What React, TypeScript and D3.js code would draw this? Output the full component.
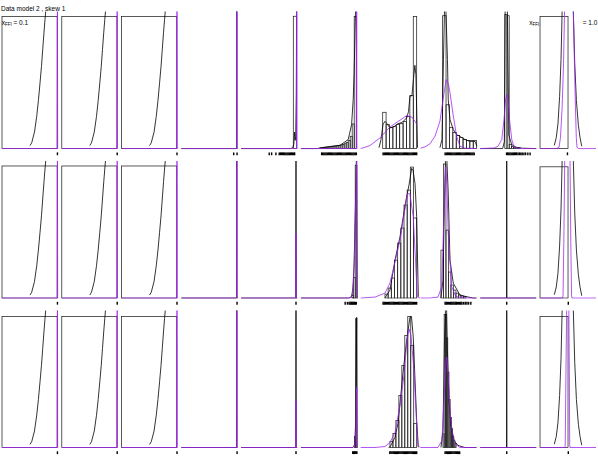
import * as d3 from "d3";

type Pt = [number, number];
type Bins = { x0: number; w: number; h: number[] };
type Panel = { bins?: Bins; black?: Pt[]; purple?: Pt[]; rug: number[] };

// all values in panel units: x 0..100 across a panel, y 0..100 of panel height
const title = "Data model 2 , skew 1";
const xffiLeft = "= 0.1";
const xffiRight = "= 1.0";

// shapes shared by several panels
const tailBlack: Pt[] = [[50, 2.2], [53, 4.2], [58, 12], [62, 23.6], [65, 35], [67.9, 48], [70.5, 60], [72.7, 72.3], [75, 85], [76.8, 94.2], [78, 100], [78.6, 110]];
const edgeSpike: Pt[] = [[0, 0], [98.6, 0], [99, 110], [99.4, 0], [100, 0]];
const midSpike: Pt[] = [[0, 0], [47, 0], [47.3, 110], [47.6, 0], [100, 0]];
const flatLine: Pt[] = [[0, 0], [100, 0]];
const twinBlack: Pt[] = [[25.5, 2.4], [29, 8], [32, 18], [35, 38], [37.5, 65], [39.5, 100], [41, 140], [58, 140], [59.5, 100], [62, 62], [65, 35], [68.5, 17], [71.5, 8], [74.5, 1.7]];
const wideBin1: Bins = { x0: 0, w: 98.5, h: [96.4] };
const wideBin3: Bins = { x0: 0, w: 98.5, h: [95.6] };

// row 1
const r1c3Rug = [93.5, 99.5];
const r1c4Bins: Bins = { x0: 93.2, w: 6.1, h: [96.6] };
const r1c4Black: Pt[] = [[0, 0], [88, 0], [92, 0.5], [94, 3], [95.5, 12], [96.5, 6], [97.5, 9], [98.5, 40], [99.2, 110]];
const r1c4Purple: Pt[] = [[0, 0], [98.9, 0], [99.3, 110], [99.7, 0], [100, 0]];
const r1c4Rug = [50.2, 54.5, 62.1, 68, 70, 72, 74, 76, 78, 80, 82, 84, 86, 88, 90, 92, 94, 95.6];
const r1c5Bins: Bins = { x0: 34, w: 3.6, h: [0.5, 0.6, 0.8, 1, 1.1, 1.3, 1.5, 1.8, 2, 2.3, 2.6, 3, 3.6, 4.5, 6, 9, 18, 96.5] };
const r1c5Black: Pt[] = [[0, 0], [30, 0], [34.1, 0.5], [50, 1.5], [69.8, 2.4], [84.5, 6.6], [90.5, 17.5], [93.4, 35.8], [95, 55], [96.6, 84.7], [97.5, 100], [98, 110]];
const r1c5Purple: Pt[] = [[0, 0], [99.2, 0], [99.6, 110], [100, 0]];
const r1c5Rug = [37, 39, 41, 43, 45, 47, 49, 51, 53, 55, 57, 59, 61, 63, 65, 67, 69, 71, 73, 75, 77, 79, 81, 83, 85, 87, 89, 91, 93, 95, 97, 99];
const r1c6Bins: Bins = { x0: 39.3, w: 6.07, h: [26.5, 17.5, 15.3, 16, 17.5, 18.2, 19.7, 23.4, 38.7, 96.4] };
const r1c6Black: Pt[] = [[32.7, 0.7], [36.3, 6.6], [39.8, 17.5], [43.4, 19.9], [47, 18.2], [52.3, 15.1], [59.5, 16], [66.6, 18.2], [73.8, 19], [82.1, 22.4], [85.4, 27], [88, 38.2], [91.6, 38.7], [94.1, 50.4], [96.8, 60.8], [98.6, 54], [100.4, 21], [101.5, 0.7]];
const r1c6Purple: Pt[] = [[0, 0], [16.6, 2.2], [34.5, 7.8], [52.3, 15.8], [70.2, 20.7], [82.1, 24.1], [91.1, 23.1], [97, 19.9], [100.5, 17.5]];
const r1c6Rug = [40, 42, 44, 46, 48, 50, 52, 54, 56, 58, 60, 62, 64, 66, 68, 70, 72, 74, 76, 78, 80, 82, 84, 86, 88, 90, 92, 94, 96, 98, 100];
const r1c7Bins: Bins = { x0: 39.6, w: 6.07, h: [97, 32, 15.3, 11.7, 9.5, 8, 6.6, 5.8, 5.8, 5.8] };
const r1c7Black: Pt[] = [[34.8, 0.7], [38.4, 6.6], [41.1, 65], [42.9, 100], [43.5, 110], [45, 110], [45.5, 100], [48.2, 65], [49.6, 35.8], [52.7, 21.2], [58.6, 13.9], [64.6, 10.2], [70.5, 8.9], [79.5, 6.6], [88.4, 5.3], [97.3, 5.3], [100.9, 1.7]];
const r1c7Purple: Pt[] = [[0, 0.3], [8, 1.2], [17, 3.5], [26, 9], [34.8, 20], [40.7, 37], [46, 50.4], [50, 47], [52.7, 41], [58.6, 24], [64.6, 9], [70.5, 1.7], [79.5, 0.3], [100, 0]];
const r1c7Rug = [44, 46, 48, 50, 52, 54, 56, 58, 60, 62, 64, 66, 68, 70, 72, 74, 76, 78, 80, 82, 84, 86, 88, 90, 92, 94, 96];
const r1c8Bins: Bins = { x0: 43.9, w: 3.9, h: [98, 97, 3, 1.5, 1, 0.5, 0.5] };
const r1c8Black: Pt[] = [[0, 0], [40, 0], [43, 5], [44.5, 100], [45, 110], [48, 110], [48.5, 100], [51, 10], [56, 3], [64, 1], [75, 0.3], [100, 0]];
const r1c8Purple: Pt[] = [[0, 0], [25, 0.5], [31.8, 1.7], [38.4, 6.6], [42.5, 21.2], [45.2, 35.8], [47.3, 39.4], [49.6, 35.8], [52.3, 21.2], [56.3, 6.6], [60.4, 1.1], [70, 0], [100, 0]];
const r1c8Rug = [47, 49, 51, 53, 55, 57, 59, 61, 63, 65, 67.5, 70, 72.5, 75, 78, 81, 85, 89];
const r1c9Bins: Bins = { x0: 0, w: 50, h: [96.4] };
const r1c9Purple: Pt[] = [[0, 0], [30, 0], [34, 1], [36.5, 8], [39.5, 30], [42, 62], [43.75, 100], [45, 140], [58, 140], [59.5, 100], [61.5, 62], [63.3, 30], [64.8, 8], [66, 1], [69, 0], [100, 0]];

// row 2
const r2c4Black: Pt[] = [[0, 0], [97.6, 0], [98, 110], [98.4, 0], [100, 0]];
const r2c4Purple: Pt[] = [[0, 0], [97.6, 0], [98, 47.4], [98.4, 0], [100, 0]];
const r2c5Bins: Bins = { x0: 91, w: 3, h: [2, 15, 97] };
const r2c5Black: Pt[] = [[0, 0], [85, 0], [89, 0.5], [91, 2], [93, 8], [95, 25], [97, 60], [99, 100], [99.5, 110], [100.3, 0], [101, 0]];
const r2c5Purple: Pt[] = [[0, 0], [86, 0], [90, 0.5], [92, 3], [94, 12], [96, 35], [98, 75], [99.5, 100], [100.3, 0], [101, 0]];
const r2c5Rug = [79, 83, 86, 88, 90, 91.5, 93, 94.5, 96, 97.5, 99];
const r2c6Bins: Bins = { x0: 43.4, w: 5.66, h: [2.9, 7.3, 14.6, 27.7, 40.1, 51.1, 67.9, 78.8, 95.6, 58.4] };
const r2c6Black: Pt[] = [[43.4, 0], [52.3, 5.8], [61.3, 27.7], [70.2, 44.7], [80.9, 71.5], [86.3, 82.5], [91.1, 94.7], [93.4, 93.4], [97, 83.7], [100, 59.3], [102.9, 1]];
const r2c6Purple: Pt[] = [[0, 0], [25.5, 0.7], [43.4, 3.6], [52.3, 10.9], [61.3, 26.3], [70.2, 42.3], [77.3, 60.6], [83.9, 76.4], [88, 75.9], [93.9, 59.3], [97.9, 27.7], [101.1, 1], [105.9, 0]];
const r2c6Rug = [40, 42, 44, 46, 48, 50, 52, 54, 56, 58, 60, 62, 64, 66, 68, 70, 72, 74, 76, 78, 80, 82, 84, 86, 88, 90, 92, 94, 96, 98, 100];
const r2c7Bins: Bins = { x0: 36.6, w: 4.46, h: [35, 97.8, 49.6, 19, 9.5, 5.8, 3.6, 2.2, 1.5, 1] };
const r2c7Black: Pt[] = [[36.6, 0], [40.2, 13], [42.9, 71.5], [44.6, 99.5], [45, 110], [46.8, 110], [47.3, 99.5], [49.6, 76.6], [52.7, 27.7], [58.6, 10.9], [70.5, 2.2], [81.3, 1.1], [93.8, 0], [100, 0]];
const r2c7Purple: Pt[] = [[0, 0], [17, 0], [31.3, 0.7], [37.9, 8.2], [41.1, 49.6], [45, 95.8], [47.3, 82.5], [49.6, 47.4], [55.7, 8.2], [63.4, 1.1], [79.5, 0], [100, 0]];
const r2c7Rug = [44, 46, 48, 50, 52, 54, 56, 58, 60, 62, 64, 66, 68, 70, 72, 74, 77, 80, 83, 86, 90];
const r2c9Bins: Bins = { x0: 0, w: 50, h: [95.8] };
const r2c9Purple: Pt[] = [[0, 0], [40.5, 0], [41.1, 2], [42.5, 40], [44.1, 99.3], [44.4, 110], [53.3, 110], [53.6, 99.3], [55, 40], [56.3, 2], [57, 0], [100, 0]];

// row 3
const r3c4Purple: Pt[] = [[0, 0], [97.6, 0], [98, 34.3], [98.4, 0], [100, 0]];
const r3c5Bins: Bins = { x0: 95.5, w: 2.2, h: [8, 94] };
const r3c5Black: Pt[] = [[0, 0], [93, 0], [96, 2], [98, 20], [99.6, 95], [100.3, 0], [101, 0]];
const r3c5Purple: Pt[] = [[0, 0], [93, 0], [96, 1.5], [98, 12], [99.6, 44], [100.3, 0], [101, 0]];
const r3c5Rug = [92.5, 94, 95.5, 97, 98.5, 100];
const r3c6Bins: Bins = { x0: 52.3, w: 5.3, h: [4.4, 10.2, 19.7, 38, 59.9, 81.8, 95.6, 74.5, 17.5] };
const r3c6Black: Pt[] = [[50, 0], [52.3, 0.3], [61.3, 7.5], [66.6, 17.5], [75.5, 54], [82.1, 78.1], [88, 95.1], [90.7, 95.6], [93.9, 80.5], [100, 19.7], [102.9, 0.2]];
const r3c6Purple: Pt[] = [[0, 0], [25.5, 0], [43.4, 0.7], [52.3, 3.6], [61.3, 10.9], [70.2, 30.7], [77.3, 52.6], [82.7, 78.1], [86.3, 86.6], [89.8, 81.8], [95.2, 56.2], [99.6, 19.7], [102.3, 1.5], [105.9, 0]];
const r3c6Rug = [52, 54, 56, 58, 60, 62, 64, 66, 68, 70, 72, 74, 76, 78, 80, 82, 84, 86, 88, 90, 92, 94, 96, 98, 100];
const r3c7Bins: Bins = { x0: 40.2, w: 2.14, h: [10, 97, 97, 80, 55, 35, 22, 14, 8, 5, 3] };
const r3c7Black: Pt[] = [[36.6, 0], [40.2, 12.4], [42.9, 78], [44.6, 99], [45, 110], [46.5, 110], [46.8, 98.5], [48.2, 70.8], [50.9, 34.3], [54.5, 16], [59.8, 5.1], [66.9, 1.5], [79.5, 0], [100, 0]];
const r3c7Purple: Pt[] = [[0, 0], [31.3, 0], [38.4, 5.1], [42, 34.3], [45.5, 63.5], [46.8, 65.9], [49.1, 56.2], [52.7, 27], [56.3, 12.4], [61.6, 2.9], [70.5, 0], [100, 0]];
const r3c7Rug = [44, 46, 48, 50, 52, 54, 56, 58, 60, 62, 64, 66, 68, 70];
const r3c9Bins: Bins = { x0: 0, w: 50, h: [95.6] };
const r3c9Purple: Pt[] = [[0, 0], [44.5, 0], [45, 2], [46.2, 50], [47.5, 99], [47.7, 110], [51.3, 110], [51.5, 99], [52.4, 50], [53, 2], [53.5, 0], [100, 0]];

const tailPanel = (bins: Bins): Panel => ({ bins, black: tailBlack, purple: edgeSpike, rug: [99] });

const rows: Panel[][] = [
  [
    tailPanel(wideBin1), tailPanel(wideBin1), tailPanel(wideBin1),
    { black: edgeSpike, purple: edgeSpike, rug: r1c3Rug },
    { bins: r1c4Bins, black: r1c4Black, purple: r1c4Purple, rug: r1c4Rug },
    { bins: r1c5Bins, black: r1c5Black, purple: r1c5Purple, rug: r1c5Rug },
    { bins: r1c6Bins, black: r1c6Black, purple: r1c6Purple, rug: r1c6Rug },
    { bins: r1c7Bins, black: r1c7Black, purple: r1c7Purple, rug: r1c7Rug },
    { bins: r1c8Bins, black: r1c8Black, purple: r1c8Purple, rug: r1c8Rug },
    { bins: r1c9Bins, black: twinBlack, purple: r1c9Purple, rug: [49] },
  ],
  [
    tailPanel(wideBin1), tailPanel(wideBin1), tailPanel(wideBin1),
    { black: edgeSpike, purple: edgeSpike, rug: [99.5] },
    { black: r2c4Black, purple: r2c4Purple, rug: [98] },
    { bins: r2c5Bins, black: r2c5Black, purple: r2c5Purple, rug: r2c5Rug },
    { bins: r2c6Bins, black: r2c6Black, purple: r2c6Purple, rug: r2c6Rug },
    { bins: r2c7Bins, black: r2c7Black, purple: r2c7Purple, rug: r2c7Rug },
    { black: midSpike, purple: flatLine, rug: [47.3] },
    { bins: r2c9Bins, black: twinBlack, purple: r2c9Purple, rug: [50.5] },
  ],
  [
    tailPanel(wideBin3), tailPanel(wideBin3), tailPanel(wideBin3),
    { black: edgeSpike, purple: edgeSpike, rug: [99.5] },
    { black: r2c4Black, purple: r3c4Purple, rug: [98] },
    { bins: r3c5Bins, black: r3c5Black, purple: r3c5Purple, rug: r3c5Rug },
    { bins: r3c6Bins, black: r3c6Black, purple: r3c6Purple, rug: r3c6Rug },
    { bins: r3c7Bins, black: r3c7Black, purple: r3c7Purple, rug: r3c7Rug },
    { black: midSpike, purple: flatLine, rug: [47.3] },
    { bins: r3c9Bins, black: twinBlack, purple: r3c9Purple, rug: [50.5] },
  ],
];

const PURPLE = "#a020f0";
const panelW = 56;
const panelH = 137;

function PanelView({ p, left, base, clip }: { p: Panel; left: number; base: number; clip: string }) {
  const x = d3.scaleLinear().domain([0, 100]).range([left, left + panelW]);
  const y = d3.scaleLinear().domain([0, 100]).range([base, base - panelH]);
  const line = d3.line<Pt>().x((d) => x(d[0])).y((d) => y(d[1]));
  return (
    <g>
      <g clipPath={`url(#${clip})`}>
        {p.bins &&
          p.bins.h.map((h, i) => (
            <rect
              key={i}
              x={x(p.bins!.x0 + i * p.bins!.w)}
              y={y(h)}
              width={x(p.bins!.w) - x(0)}
              height={y(0) - y(h)}
              fill="none"
              stroke="#222"
              strokeWidth={0.75}
            />
          ))}
        {p.black && <path d={line(p.black) || ""} fill="none" stroke="#000" strokeWidth={0.8} />}
        {p.purple && <path d={line(p.purple) || ""} fill="none" stroke={PURPLE} strokeWidth={0.9} strokeOpacity={0.85} />}
      </g>
      {p.rug.map((v, i) => (
        <line key={i} x1={x(v)} x2={x(v)} y1={base + 3.8} y2={base + 6.6} stroke="#000" strokeWidth={1.4} />
      ))}
    </g>
  );
}

export default function App() {
  const rowBase = (r: number) => 148.6 + r * 149.45;
  const colLeft = (c: number) => 2 + c * 59.78;
  return (
    <svg
      width={598}
      height={461}
      style={{ position: "absolute", left: 0, top: 0, background: "#fff" }}
      fontFamily="'Liberation Sans', Arial, sans-serif"
    >
      <defs>
        {rows.map((_, r) => (
          <clipPath id={`rowclip${r}`} key={r}>
            <rect x={0} y={rowBase(r) - panelH} width={598} height={panelH + 0.8} />
          </clipPath>
        ))}
      </defs>
      {rows.map((row, r) =>
        row.map((p, c) => (
          <PanelView key={`${r}-${c}`} p={p} left={colLeft(c)} base={rowBase(r)} clip={`rowclip${r}`} />
        ))
      )}
      <text x={1} y={11} fontSize={6.5} fill="#000">{title}</text>
      <text x={1.7} y={25} fontSize={6.5} fill="#000">
        x<tspan fontSize={4.5} dy={1.2}>FFI</tspan>
        <tspan dy={-1.2}> {xffiLeft}</tspan>
      </text>
      <text x={529.3} y={25} fontSize={6.5} fill="#000">
        x<tspan fontSize={4.5} dy={1.2}>FFI</tspan>
      </text>
      <text x={582.7} y={25} fontSize={6.5} fill="#000">{xffiRight}</text>
    </svg>
  );
}
